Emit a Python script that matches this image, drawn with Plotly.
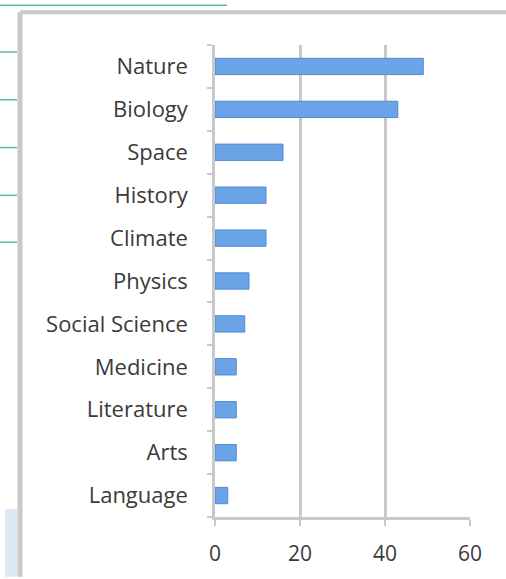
import plotly.graph_objects as go

categories = ["Nature", "Biology", "Space", "History", "Climate", "Physics",
              "Social Science", "Medicine", "Literature", "Arts", "Language"]
values = [49, 43, 16, 12, 12, 8, 7, 5, 5, 5, 3]
x_ticks = [0, 20, 40, 60]

W, H = 506, 579
L, R, T, B = 215, 36, 45, 60
pw, ph = W - L - R, H - T - B

def px(x):
    return (x - L) / pw

def py(y):
    return (H - B - y) / ph

fig = go.Figure()
fig.add_trace(go.Bar(
    y=categories, x=values, orientation="h",
    marker=dict(color="#6aa3e6", line=dict(color="#4f8ad6", width=1)),
    width=0.38,
))

shapes = []
grey = "#c9c9c9"
# frame
shapes.append(dict(type="line", xref="paper", yref="paper", x0=px(20), x1=px(506), y0=py(12), y1=py(12),
                   line=dict(color=grey, width=4)))
shapes.append(dict(type="line", xref="paper", yref="paper", x0=px(20), x1=px(20), y0=py(12), y1=py(579),
                   line=dict(color=grey, width=5)))
# background artefacts
teal = "#5fb8a6"
shapes.append(dict(type="line", xref="paper", yref="paper", x0=px(0), x1=px(227), y0=py(5), y1=py(5),
                   line=dict(color=teal, width=1.5)))
for yy in [52, 100, 148, 196, 243]:
    shapes.append(dict(type="line", xref="paper", yref="paper", x0=px(0), x1=px(17), y0=py(yy), y1=py(yy),
                       line=dict(color=teal, width=1.5)))
shapes.append(dict(type="rect", xref="paper", yref="paper", x0=px(5), x1=px(17), y0=py(511), y1=py(579),
                   fillcolor="#dbe8f5", line=dict(width=0), layer="below"))

font = "'Open Sans', sans-serif"
fig.update_layout(
    width=W, height=H,
    margin=dict(l=L, r=R, t=T, b=B),
    paper_bgcolor="white", plot_bgcolor="white",
    showlegend=False,
    shapes=shapes,
    font=dict(family=font, size=21, color="#3a3a3a"),
    xaxis=dict(range=[0, 60], tickvals=x_ticks, ticktext=[str(v) for v in x_ticks],
               showgrid=True, gridcolor=grey, gridwidth=2.5,
               showline=True, linecolor=grey, linewidth=2.5,
               ticks="outside", ticklen=6, tickcolor=grey, tickwidth=2,
               ticklabelstandoff=10,
               zeroline=False, fixedrange=True),
    yaxis=dict(categoryorder="array", categoryarray=categories[::-1],
               showline=True, linecolor=grey, linewidth=2.5,
               ticks="outside", ticklen=5, tickcolor=grey, tickwidth=2,
               tickson="boundaries", showgrid=False, ticklabelstandoff=20,
               tickfont=dict(size=22), fixedrange=True),
)

fig.write_html("out.html", config={"displayModeBar": False},
               post_script="document.body.style.margin='0';document.body.style.overflow='hidden';")
